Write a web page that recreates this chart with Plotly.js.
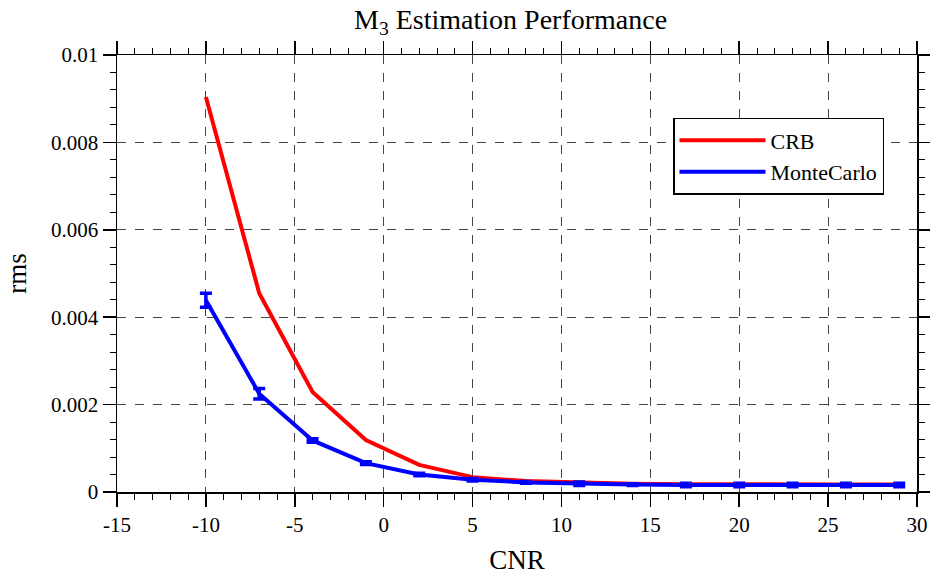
<!DOCTYPE html>
<html><head><meta charset="utf-8">
<script src="https://cdn.plot.ly/plotly-3.0.1.min.js"></script>
<style>html,body{margin:0;padding:0;background:#fff;}</style>
</head><body><div id="chart" style="width:930px;height:577px;"></div>
<script>
const cnr = [-10, -7, -4, -1, 2, 5, 8, 11, 14, 17, 20, 23, 26, 29];
const crb = [0.00904, 0.00455, 0.00229, 0.00119, 0.00062, 0.00034, 0.00025, 0.00021, 0.00019, 0.00018, 0.00017, 0.00017, 0.00017, 0.00017];
const monteCarlo = [0.00439, 0.00225, 0.00118, 0.00066, 0.00040, 0.00028, 0.00022, 0.00019, 0.00017, 0.00016, 0.00016, 0.00016, 0.00016, 0.00016];
const mcError = [0.00016, 0.00012, 0.00004, 0.00003, 0.00003, 0.00003, 0.00002, 0.00004, 0.00002, 0.00004, 0.00004, 0.00004, 0.00004, 0.00004];
const xTickVals = [-15, -10, -5, 0, 5, 10, 15, 20, 25, 30];
const xTickText = ["-15", "-10", "-5", "0", "5", "10", "15", "20", "25", "30"];
const yTickVals = [0, 0.002, 0.004, 0.006, 0.008, 0.01];
const yTickText = ["0", "0.002", "0.004", "0.006", "0.008", "0.01"];

const font = "Liberation Serif, Times New Roman, serif";
const traces = [
  {x: cnr, y: crb, name: 'CRB', type: 'scatter', mode: 'lines',
   line: {color: '#ff0000', width: 4}},
  {x: cnr, y: monteCarlo, name: 'MonteCarlo', type: 'scatter', mode: 'lines',
   line: {color: '#0000ff', width: 4},
   error_y: {type: 'data', array: mcError, visible: true, color: '#0000ff', thickness: 3.5, width: 6}}
];
const axisCommon = {
  showline: true, linecolor: '#000', linewidth: 1.5, mirror: 'allticks',
  ticks: 'outside', ticklen: 13, tickwidth: 1.5, tickcolor: '#000',
  showgrid: true, gridcolor: '#444', griddash: 'dash', gridwidth: 1,
  zeroline: false, tickfont: {family: font, size: 21, color: '#000'}
};
const layout = {
  width: 930, height: 577,
  margin: {l: 117, r: 13, t: 55, b: 85},
  paper_bgcolor: '#fff', plot_bgcolor: '#fff',
  font: {family: font, color: '#000'},
  title: {text: 'M<sub>3</sub> Estimation Performance', font: {family: font, size: 28, color: '#000'},
          x: 0.549, xanchor: 'center', y: 0.966, yanchor: 'middle'},
  xaxis: Object.assign({}, axisCommon, {
    range: [-15, 30], tickmode: 'array', tickvals: xTickVals, ticktext: xTickText,
    minor: {dtick: 1, ticks: 'outside', ticklen: 6, tickwidth: 1, tickcolor: '#000', showgrid: false},
    title: {text: 'CNR', font: {family: font, size: 27, color: '#000'}, standoff: 14}
  }),
  yaxis: Object.assign({}, axisCommon, {
    range: [0, 0.01], tickmode: 'array', tickvals: yTickVals, ticktext: yTickText,
    minor: {dtick: 0.0004, ticks: 'outside', ticklen: 6, tickwidth: 1, tickcolor: '#000', showgrid: false},
    title: {text: 'rms', font: {family: font, size: 27, color: '#000'}, standoff: 16}
  }),
  legend: {x: 0.695, y: 0.856, xanchor: 'left', yanchor: 'top',
           bgcolor: '#fff', bordercolor: '#000', borderwidth: 1.5,
           font: {family: font, size: 22, color: '#000'}, itemwidth: 86, tracegroupgap: 4},
  showlegend: true
};
Plotly.newPlot('chart', traces, layout, {displayModeBar: false, staticPlot: true});
</script></body></html>
